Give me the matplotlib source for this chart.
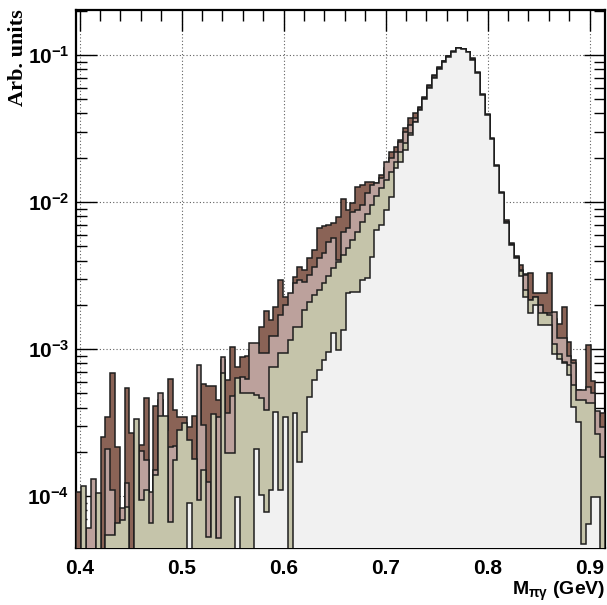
import matplotlib.pyplot as plt
import numpy as np
from matplotlib.ticker import MultipleLocator, LogLocator, NullFormatter, FuncFormatter

# histogram range (GeV) and number of bins
x_lo, x_hi = 0.397, 0.915
n_bins = 110

# back layer (dark brown)
brown = [1.06e-4, 0, 0, 0, 0, 2.52e-4, 3.45e-4, 6.87e-4, 2.15e-4, 0,
         5.43e-4, 2.68e-4, 0, 2.22e-4, 4.64e-4, 0, 4.10e-4, 4.50e-4, 2.81e-4, 6.25e-4,
         3.85e-4, 3.45e-4, 3.45e-4, 2.95e-4, 3.50e-4, 0, 5.78e-4, 5.60e-4, 5.60e-4, 4.50e-4,
         8.42e-4, 6.15e-4, 1.03e-3, 7.54e-4, 8.82e-4, 8.96e-4, 9.84e-4, 1.07e-3, 1.41e-3, 1.81e-3,
         1.58e-3, 1.93e-3, 2.95e-3, 2.26e-3, 2.26e-3, 3.09e-3, 3.61e-3, 3.45e-3, 4.16e-3, 4.72e-3,
         6.65e-3, 6.87e-3, 6.98e-3, 7.20e-3, 7.91e-3, 1.05e-2, 8.82e-3, 9.84e-3, 1.26e-2, 1.31e-2,
         1.37e-2, 1.37e-2, 1.35e-2, 1.53e-2, 1.70e-2, 2.19e-2, 2.37e-2, 2.64e-2, 3.19e-2, 3.73e-2,
         4.03e-2, 4.43e-2, 5.18e-2, 6.25e-2, 7.31e-2, 8.29e-2, 9.10e-2, 9.84e-2, 0.1065, 0.1116,
         0.1099, 0.1048, 9.54e-2, 7.66e-2, 5.43e-2, 3.97e-2, 2.72e-2, 1.79e-2, 1.17e-2, 7.54e-3,
         5.26e-3, 4.29e-3, 3.73e-3, 3.24e-3, 3.27e-3, 2.42e-3, 2.39e-3, 2.39e-3, 3.27e-3, 1.60e-3,
         1.48e-3, 1.92e-3, 1.12e-3, 8.4e-4, 5.3e-4, 5.0e-4, 1.06e-3, 6.1e-4, 3.5e-4, 3.66e-4]

# second layer (pinkish brown)
pink = [0, 0, 6.06e-5, 1.30e-4, 0, 0, 2.09e-4, 1.10e-4, 0, 8.29e-5,
        1.23e-4, 0, 0, 2.02e-4, 1.76e-4, 1.06e-4, 1.50e-4, 5.02e-4, 0, 2.15e-4,
        2.19e-4, 0, 0, 0, 0, 7.78e-4, 3.04e-4, 1.25e-4, 0, 3.45e-4,
        8.82e-4, 3.67e-4, 4.79e-4, 4.86e-4, 6.45e-4, 6.25e-4, 1.10e-3, 1.10e-3, 9.39e-4, 9.39e-4,
        1.23e-3, 1.23e-3, 1.70e-3, 1.99e-3, 2.40e-3, 2.81e-3, 2.95e-3, 2.86e-3, 3.19e-3, 3.61e-3,
        4.16e-3, 4.50e-3, 5.34e-3, 5.69e-3, 4.03e-3, 6.25e-3, 6.65e-3, 8.55e-3, 8.82e-3, 9.54e-3,
        1.15e-2, 1.31e-2, 1.35e-2, 1.46e-2, 1.87e-2, 1.99e-2, 2.19e-2, 2.56e-2, 3.00e-2, 3.34e-2,
        3.73e-2, 4.36e-2, 5.10e-2, 6.15e-2, 7.20e-2, 8.16e-2, 9.10e-2, 9.84e-2, 0.1048, 0.1116,
        0.1099, 0.1048, 9.39e-2, 7.54e-2, 5.34e-2, 3.91e-2, 2.68e-2, 1.76e-2, 1.15e-2, 7.31e-3,
        5.18e-3, 4.23e-3, 3.44e-3, 3.18e-3, 2.15e-3, 2.27e-3, 1.99e-3, 1.75e-3, 1.75e-3, 1.79e-3,
        1.18e-3, 1.18e-3, 8.9e-4, 8.0e-4, 5.3e-4, 5.3e-4, 5.5e-4, 5.0e-4, 3.8e-4, 2.96e-4]

# third layer (olive)
olive = [0, 1.17e-4, 0, 0, 1.05e-4, 0, 5.43e-5, 5.43e-5, 6.55e-5, 6.87e-5,
         8.42e-5, 0, 3.34e-4, 9.39e-5, 1.10e-4, 6.55e-5, 1.39e-4, 3.50e-4, 3.50e-4, 6.65e-5,
         1.76e-4, 2.81e-4, 3.14e-4, 2.40e-4, 1.79e-4, 9.39e-5, 1.50e-4, 5.26e-5, 3.61e-4, 5.18e-5,
         6.87e-4, 1.96e-4, 1.96e-4, 6.35e-4, 5.02e-4, 5.02e-4, 5.02e-4, 4.86e-4, 4.64e-4, 3.85e-4,
         7.54e-4, 7.54e-4, 9.39e-4, 9.39e-4, 1.15e-3, 1.41e-3, 1.41e-3, 1.84e-3, 2.09e-3, 2.33e-3,
         2.52e-3, 2.81e-3, 3.14e-3, 3.56e-3, 3.91e-3, 4.36e-3, 4.87e-3, 5.51e-3, 6.25e-3, 7.31e-3,
         8.29e-3, 9.54e-3, 1.10e-2, 1.25e-2, 1.41e-2, 1.60e-2, 1.87e-2, 2.19e-2, 2.52e-2, 2.95e-2,
         3.50e-2, 4.22e-2, 5.02e-2, 5.96e-2, 6.98e-2, 8.03e-2, 8.96e-2, 9.69e-2, 0.1048, 0.1116,
         0.1099, 0.1048, 9.25e-2, 7.54e-2, 5.34e-2, 3.91e-2, 2.68e-2, 1.76e-2, 1.15e-2, 7.31e-3,
         5.10e-3, 4.16e-3, 3.41e-3, 2.52e-3, 2.15e-3, 2.27e-3, 1.75e-3, 1.75e-3, 1.70e-3, 1.09e-3,
         9.3e-4, 8.2e-4, 7.8e-4, 5.7e-4, 4.5e-4, 4.5e-4, 4.3e-4, 4.3e-4, 2.64e-4, 1.85e-4]

# front layer (light grey)
grey = [0, 0, 0, 0, 0, 0, 0, 0, 0, 0,
        0, 0, 0, 0, 0, 0, 0, 0, 0, 0,
        0, 0, 0, 8.96e-5, 0, 0, 0, 0, 0, 0,
        0, 0, 0, 9.84e-5, 0, 0, 0, 2.09e-4, 1.02e-4, 7.78e-5,
        1.10e-4, 3.73e-4, 1.10e-4, 3.45e-4, 0, 3.67e-4, 1.70e-4, 2.72e-4, 4.72e-4, 6.15e-4,
        7.20e-4, 8.42e-4, 9.54e-4, 1.28e-3, 9.84e-4, 1.35e-3, 2.40e-3, 2.44e-3, 2.44e-3, 2.95e-3,
        3.04e-3, 4.23e-3, 6.45e-3, 6.98e-3, 8.82e-3, 1.08e-2, 1.70e-2, 1.87e-2, 2.26e-2, 2.86e-2,
        3.50e-2, 4.22e-2, 5.02e-2, 5.96e-2, 6.98e-2, 8.03e-2, 8.96e-2, 9.69e-2, 0.1048, 0.1116,
        0.1099, 0.1048, 9.25e-2, 7.54e-2, 5.34e-2, 3.91e-2, 2.68e-2, 1.76e-2, 1.15e-2, 7.20e-3,
        5.10e-3, 4.16e-3, 3.14e-3, 2.27e-3, 1.77e-3, 1.99e-3, 1.46e-3, 1.46e-3, 1.46e-3, 9.3e-4,
        8.6e-4, 8.0e-4, 6.65e-4, 4.06e-4, 3.2e-4, 4.7e-5, 6.5e-5, 9.9e-5, 9.9e-5, 0]

layers = [brown, pink, olive, grey]
fill_colors = ['#8a6356', '#bca19c', '#c5c4aa', '#f1f1f1']


def make_plot():
    plt.rcParams['font.family'] = ['Liberation Sans', 'DejaVu Sans']
    plt.rcParams['mathtext.fontset'] = 'custom'
    plt.rcParams['mathtext.rm'] = 'Liberation Sans:bold'
    plt.rcParams['mathtext.it'] = 'Liberation Sans:bold'
    plt.rcParams['mathtext.bf'] = 'Liberation Sans:bold'

    fig = plt.figure(figsize=(6.07, 6.05), dpi=100, facecolor='white')
    ax = fig.add_axes([0.126, 0.0942, 0.8707, 0.8893])

    edges = np.linspace(x_lo, x_hi, n_bins + 1)
    floor = 1e-7
    z = 1
    for vals, col in zip(layers, fill_colors):
        v = np.array(vals, dtype=float)
        v = np.where(v > 0, v, floor)
        ax.stairs(v, edges, baseline=floor, fill=True, color=col, lw=0, zorder=z)
        ax.stairs(v, edges, baseline=floor, color='#1e1e1e', lw=1.1, zorder=z + 0.5)
        z += 1

    ax.set_yscale('log')
    ax.set_xlim(x_lo, x_hi)
    ax.set_ylim(4.43e-5, 0.2024)

    ax.set_axisbelow(True)
    ax.grid(True, which='major', linestyle=(0, (1, 2)), color='#606060', linewidth=0.8)

    ax.xaxis.set_major_locator(MultipleLocator(0.1))
    ax.xaxis.set_minor_locator(MultipleLocator(0.02))
    ax.yaxis.set_major_locator(LogLocator(base=10))
    ax.yaxis.set_minor_locator(LogLocator(base=10, subs=np.arange(2, 10)))
    ax.yaxis.set_minor_formatter(NullFormatter())
    ax.xaxis.set_major_formatter(FuncFormatter(lambda v, p: '%.1f' % v))
    ax.yaxis.set_major_formatter(FuncFormatter(lambda v, p: r'$10^{%d}$' % round(np.log10(v))))

    ax.tick_params(which='both', direction='in', top=True, right=True, width=1.0, colors='black')
    ax.tick_params(which='major', length=15)
    ax.tick_params(which='minor', length=8)
    ax.tick_params(axis='x', which='major', pad=8, labelsize=15)
    ax.tick_params(axis='y', which='major', pad=5, labelsize=15)
    for lab in ax.get_xticklabels():
        lab.set_fontweight('bold')

    for side in ['left', 'right', 'top', 'bottom']:
        ax.spines[side].set_linewidth(1.6)
        ax.spines[side].set_zorder(0.8)

    fig.text(0.030, 0.984, 'Arb. units', rotation=90, ha='center', va='top',
             fontfamily='Liberation Serif', fontweight='bold', fontsize=16)
    fig.text(0.997, 0.004, r'M$_{\pi\gamma}$ (GeV)', ha='right', va='bottom',
             fontweight='bold', fontsize=14)

    fig.savefig('out.png', dpi=100)


if __name__ == "__main__":
    make_plot()
